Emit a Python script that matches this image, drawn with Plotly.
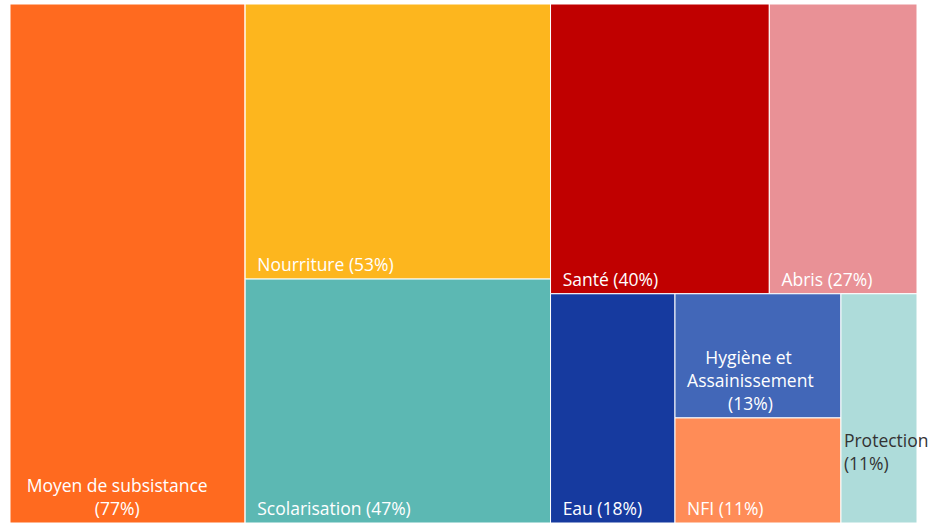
import plotly.graph_objects as go

# Data
categories = ["Moyen de subsistance", "Nourriture", "Scolarisation", "Santé", "Abris",
              "Eau", "Hygiène et Assainissement", "NFI", "Protection"]
values = [77, 53, 47, 40, 27, 18, 13, 11, 11]
# label text lines (as shown in the reference tiles)
label_lines = [["Moyen de subsistance", "(77%)"], ["Nourriture (53%)"], ["Scolarisation (47%)"],
               ["Santé (40%)"], ["Abris (27%)"], ["Eau (18%)"],
               ["Hygiène et", "Assainissement", "(13%)"], ["NFI (11%)"], ["Protection", "(11%)"]]
# layout grouping (mimics the reference tiling): "" = top level
group_of = ["", "g2", "g2", "g3", "g3", "g3", "g3", "g3", "g3"]

colors = ["#FF6A1F", "#FDB61E", "#5CB8B3", "#C00000", "#E99196",
          "#163A9F", "#4267B8", "#FF8C57", "#AEDCDA"]
text_colors = ["white"] * 8 + ["#333333"]

# text indentation (in non-breaking spaces) per line, and blank lines added under the text
indent = [[3, 18], [2], [2], [2], [2], [2], [6, 2, 11], [2], [0, 0]]
lift = [0, 0, 0, 0, 0, 0, 0, 0, 2]

NB = "&nbsp;"


def fmt(i):
    lines = [NB * n + s for n, s in zip(indent[i], label_lines[i])]
    lines += [NB] * lift[i]
    return "<br>".join(lines)


ids, parents, vals, texts, cols, tcols, labels = [], [], [], [], [], [], []
placed = set()
for i, cat in enumerate(categories):
    g = group_of[i]
    if g and g not in placed:
        placed.add(g)
        ids.append(g); parents.append(""); vals.append(0); texts.append("")
        cols.append("white"); tcols.append("white"); labels.append("")
    ids.append(cat); parents.append(g); vals.append(values[i]); texts.append(fmt(i))
    cols.append(colors[i]); tcols.append(text_colors[i]); labels.append(cat)

fig = go.Figure(go.Treemap(
    ids=ids,
    labels=labels,
    parents=parents,
    values=vals,
    branchvalues="remainder",
    customdata=texts,
    texttemplate="%{customdata}",
    textposition="bottom left",
    hoverinfo="label+value",
    marker=dict(colors=cols, line=dict(color="white", width=1),
                pad=dict(t=0, l=0, r=0, b=0)),
    insidetextfont=dict(family="Open Sans, sans-serif", size=17.5, color=tcols),
    textfont=dict(family="Open Sans, sans-serif", size=17.5, color=tcols),
    tiling=dict(packing="squarify", squarifyratio=1, pad=0),
    pathbar=dict(visible=False),
    sort=False,
))

fig.update_layout(
    width=933, height=527,
    margin=dict(l=10, r=16, t=4, b=4),
    paper_bgcolor="white",
    uniformtext=dict(minsize=17, mode="show"),
    showlegend=False,
)

fig.write_html("out.html", config={"displayModeBar": False},
               post_script="document.body.style.margin='0';")
